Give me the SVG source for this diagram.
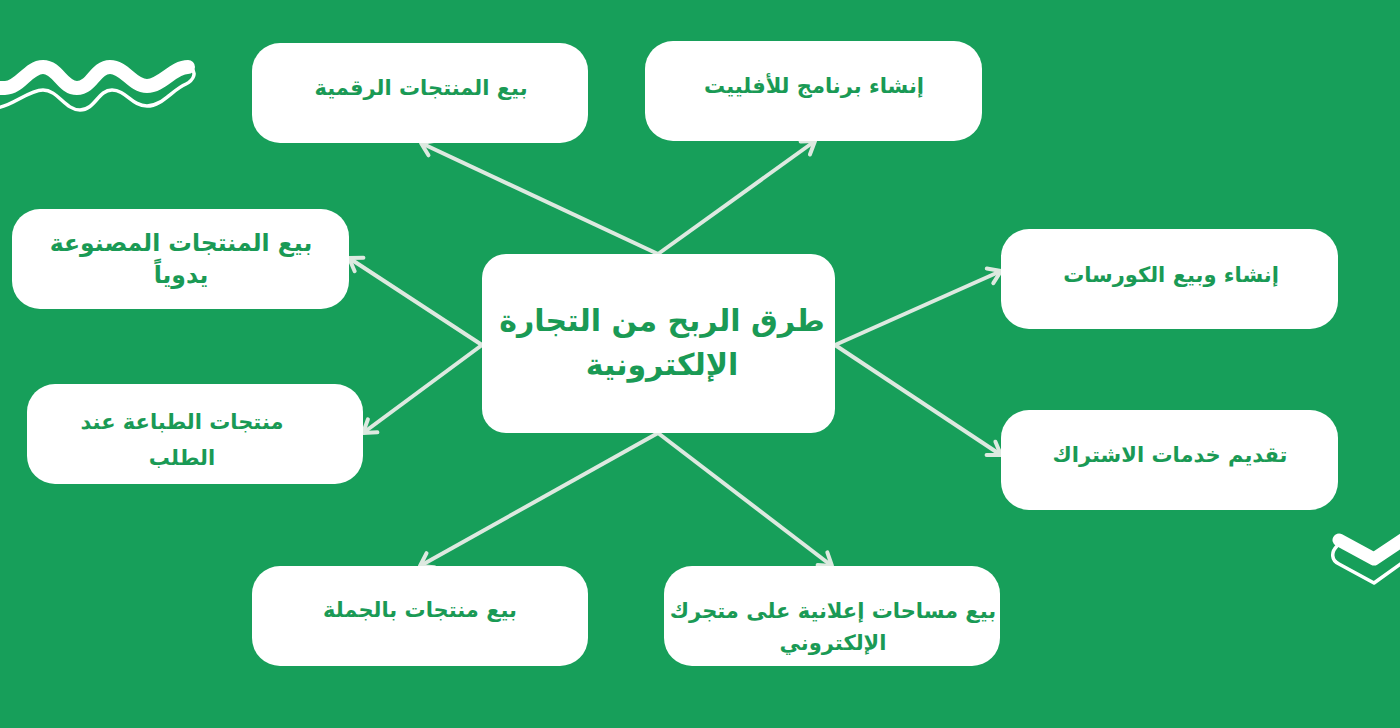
<svg xmlns="http://www.w3.org/2000/svg" width="1400" height="728" viewBox="0 0 1400 728">
<defs>
<style>
.node{fill:#ffffff;}
.t{font-family:"DejaVu Sans",sans-serif;font-weight:bold;fill:#1a9a55;text-anchor:middle;direction:rtl;}
.s{font-size:21px;}
.l{font-size:23.5px;}
.c{font-size:30px;}
.conn line{stroke:#dde9e0;stroke-width:4;fill:none;marker-end:url(#arr);}
.deco{fill:none;stroke:#ffffff;stroke-linecap:round;stroke-linejoin:round;}
</style>
<marker id="arr" markerUnits="userSpaceOnUse" markerWidth="24" markerHeight="24" viewBox="0 0 24 24" refX="20" refY="12" orient="auto">
<path d="M8,4 L20,12 L8,20" fill="none" stroke="#dde9e0" stroke-width="4" stroke-linecap="round" stroke-linejoin="round"/>
</marker>
</defs>
<rect width="1400" height="728" fill="#179f5a"/>
<g id="decor">
<path class="deco" stroke-width="3.5" d="M-5,108 C10,108 28,90 43,90 S65,110 80,110 S98,90 112,90 S132,106 147,106 S172,90 186,84 C194,80 196,73 192,69"/>
<path class="deco" stroke-width="14" d="M-8,88 C-3,88 0,88 5,88 C20,88 28,67 43,67 S62,88 77,88 S95,67 110,67 S132,86 147,86 S173,67 188,67"/>
<path class="deco" stroke-width="3.5" d="M1337,546 C1331,552 1331,560 1339,564 L1374,583 L1402,563"/>
<path class="deco" stroke-width="13" d="M1339,540 L1374,559 L1404,539"/>
</g>
<g class="conn" id="connectors">
<line x1="658" y1="254" x2="421" y2="143"/>
<line x1="658" y1="254" x2="815" y2="141"/>
<line x1="482" y1="345" x2="349" y2="258"/>
<line x1="482" y1="345" x2="363" y2="433"/>
<line x1="835" y1="345" x2="1001" y2="271"/>
<line x1="835" y1="345" x2="1001" y2="455"/>
<line x1="658" y1="433" x2="420" y2="566"/>
<line x1="658" y1="433" x2="832" y2="566"/>
</g>
<g id="center">
<rect class="node" x="482" y="254" width="353" height="179" rx="24"/>
<text class="t c" x="662" y="331">طرق الربح من التجارة</text>
<text class="t c" x="662" y="375">الإلكترونية</text>
</g>
<g id="n-digital">
<rect class="node" x="252" y="43" width="336" height="100" rx="28"/>
<text class="t s" x="421" y="95">بيع المنتجات الرقمية</text>
</g>
<g id="n-affiliate">
<rect class="node" x="645" y="41" width="337" height="100" rx="28"/>
<text class="t s" x="814" y="93">إنشاء برنامج للأفلييت</text>
</g>
<g id="n-handmade">
<rect class="node" x="12" y="209" width="337" height="100" rx="28"/>
<text class="t l" x="181" y="251">بيع المنتجات المصنوعة</text>
<text class="t l" x="181" y="283">يدوياً</text>
</g>
<g id="n-pod">
<rect class="node" x="27" y="384" width="336" height="100" rx="28"/>
<text class="t s" x="182" y="429">منتجات الطباعة عند</text>
<text class="t s" x="182" y="465">الطلب</text>
</g>
<g id="n-courses">
<rect class="node" x="1001" y="229" width="337" height="100" rx="28"/>
<text class="t s" x="1171" y="282">إنشاء وبيع الكورسات</text>
</g>
<g id="n-subs">
<rect class="node" x="1001" y="410" width="337" height="100" rx="28"/>
<text class="t s" x="1170" y="462">تقديم خدمات الاشتراك</text>
</g>
<g id="n-wholesale">
<rect class="node" x="252" y="566" width="336" height="100" rx="28"/>
<text class="t s" x="420" y="617">بيع منتجات بالجملة</text>
</g>
<g id="n-ads">
<rect class="node" x="664" y="566" width="336" height="100" rx="28"/>
<text class="t s" x="833" y="618">بيع مساحات إعلانية على متجرك</text>
<text class="t s" x="833" y="650">الإلكتروني</text>
</g>
</svg>
